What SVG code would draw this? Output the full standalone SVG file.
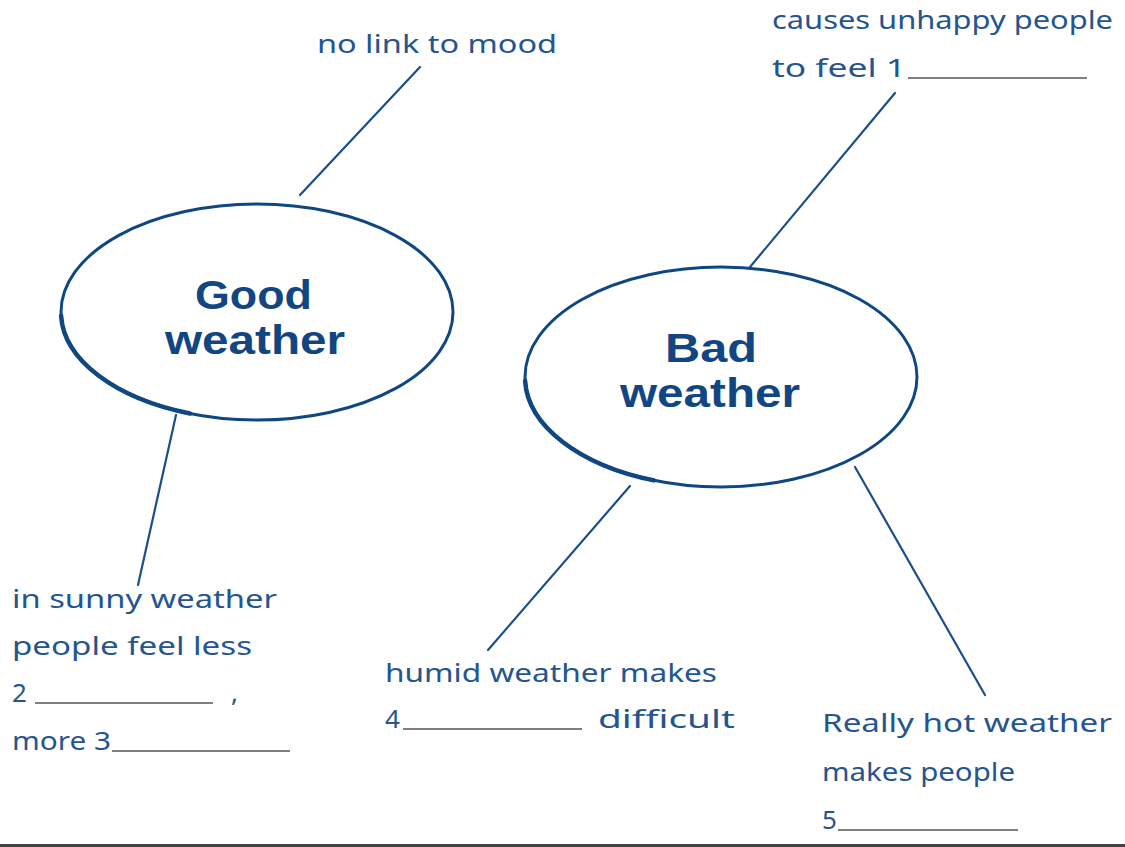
<svg xmlns="http://www.w3.org/2000/svg" width="1125" height="847" viewBox="0 0 1125 847">
<style>
.t{font-family:"Noto Sans","DejaVu Sans",sans-serif;font-size:26px;fill:#24558f;font-variant-ligatures:none;}
.h{font-family:"Liberation Sans","Noto Sans",sans-serif;font-size:40px;font-weight:bold;fill:#124683;}
.e{fill:none;stroke:#0f4782;stroke-width:3;}
.k{fill:none;stroke:#0f4782;stroke-width:4.5;stroke-linecap:round;}
.c{stroke:#1a4f8a;stroke-width:2.2;stroke-linecap:round;}
.u{stroke:#555;stroke-width:1.6;}
</style>
<rect width="1125" height="847" fill="#fff"/>
<line x1="0" y1="845.5" x2="1125" y2="845.5" stroke="#444" stroke-width="3"/>
<g id="connectors">
<line class="c" x1="420" y1="67" x2="300" y2="195"/>
<line class="c" x1="176" y1="415" x2="138" y2="585"/>
<line class="c" x1="895" y1="93" x2="750" y2="267"/>
<line class="c" x1="630" y1="486" x2="488" y2="650"/>
<line class="c" x1="855" y1="467" x2="985" y2="695"/>
</g>
<g id="good-weather">
<ellipse class="e" cx="257" cy="312" rx="196" ry="108"/>
<path class="k" d="M61.1 315.8 A196 108 0 0 0 190 413.5"/>
<text class="h" x="195" y="309" textLength="117" lengthAdjust="spacingAndGlyphs">Good</text>
<text class="h" x="165" y="354" textLength="180" lengthAdjust="spacingAndGlyphs">weather</text>
</g>
<g id="bad-weather">
<ellipse class="e" cx="721" cy="377" rx="196" ry="110"/>
<path class="k" d="M525.1 380.8 A196 110 0 0 0 654 480.4"/>
<text class="h" x="665" y="362" textLength="92" lengthAdjust="spacingAndGlyphs">Bad</text>
<text class="h" x="620" y="407" textLength="180" lengthAdjust="spacingAndGlyphs">weather</text>
</g>
<g id="no-link">
<text class="t" x="317" y="53" textLength="240" lengthAdjust="spacingAndGlyphs">no link to mood</text>
</g>
<g id="causes">
<text class="t" x="772" y="29" textLength="341" lengthAdjust="spacingAndGlyphs">causes unhappy people</text>
<text class="t" x="772" y="77" textLength="134" lengthAdjust="spacingAndGlyphs">to feel 1</text>
<line class="u" x1="908" y1="78" x2="1087" y2="78"/>
</g>
<g id="sunny">
<text class="t" x="12" y="608" textLength="265" lengthAdjust="spacingAndGlyphs">in sunny weather</text>
<text class="t" x="12" y="655" textLength="240" lengthAdjust="spacingAndGlyphs">people feel less</text>
<text class="t" x="12" y="702">2</text>
<line class="u" x1="35" y1="703" x2="213" y2="703"/>
<text class="t" x="231" y="702">,</text>
<text class="t" x="12" y="750" textLength="99" lengthAdjust="spacingAndGlyphs">more 3</text>
<line class="u" x1="112" y1="751" x2="290" y2="751"/>
</g>
<g id="humid">
<text class="t" x="385" y="682" textLength="332" lengthAdjust="spacingAndGlyphs">humid weather makes</text>
<text class="t" x="385" y="728">4</text>
<line class="u" x1="403" y1="729" x2="582" y2="729"/>
<text class="t" x="598" y="728" textLength="137" lengthAdjust="spacingAndGlyphs">difficult</text>
</g>
<g id="hot">
<text class="t" x="822" y="732" textLength="290" lengthAdjust="spacingAndGlyphs">Really hot weather</text>
<text class="t" x="822" y="781" textLength="193" lengthAdjust="spacingAndGlyphs">makes people</text>
<text class="t" x="822" y="829">5</text>
<line class="u" x1="838" y1="830" x2="1018" y2="830"/>
</g>
</svg>
